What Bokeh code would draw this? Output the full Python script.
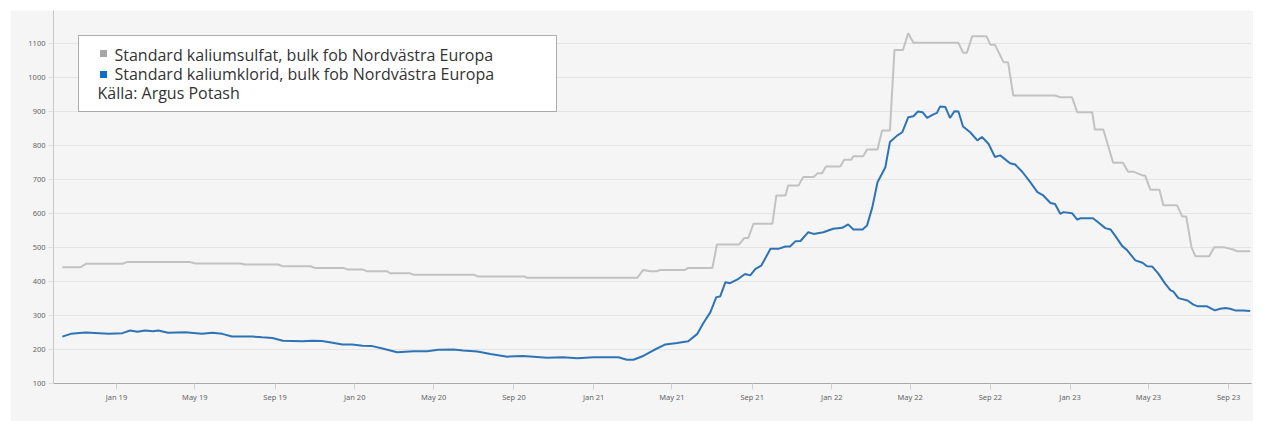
import pandas as pd
from bokeh.plotting import figure
from bokeh.models import Range1d, FixedTicker, DatetimeTickFormatter, BoxAnnotation, Label, ColumnDataSource
from bokeh.embed import file_html
from bokeh.resources import INLINE

# ---- data ----
sulfat_dates = [
    "2018-10-10", "2018-11-07", "2018-11-15", "2019-01-10", "2019-01-17", "2019-04-24", "2019-05-02",
    "2019-07-10", "2019-07-17", "2019-09-06", "2019-09-12", "2019-10-25", "2019-11-01", "2019-12-14",
    "2019-12-22", "2020-01-14", "2020-01-20", "2020-02-20", "2020-02-24", "2020-03-26", "2020-03-31",
    "2020-07-02", "2020-07-07", "2020-09-17", "2020-09-21", "2021-03-09", "2021-03-18", "2021-03-29",
    "2021-04-08", "2021-04-13", "2021-05-21", "2021-05-26", "2021-07-02", "2021-07-09", "2021-08-12",
    "2021-08-20", "2021-08-26", "2021-09-03", "2021-10-02", "2021-10-08", "2021-10-22", "2021-10-26",
    "2021-11-11", "2021-11-18", "2021-12-04", "2021-12-10", "2021-12-17", "2021-12-23", "2022-01-14",
    "2022-01-20", "2022-01-31", "2022-02-03", "2022-02-18", "2022-02-24", "2022-03-12", "2022-03-19",
    "2022-03-31", "2022-04-07", "2022-04-20", "2022-04-28", "2022-05-06", "2022-07-14", "2022-07-21",
    "2022-07-27", "2022-08-04", "2022-08-26", "2022-09-01", "2022-09-08", "2022-09-21", "2022-09-28",
    "2022-10-06", "2022-12-09", "2022-12-17", "2023-01-04", "2023-01-12", "2023-02-04", "2023-02-08",
    "2023-02-21", "2023-03-08", "2023-03-23", "2023-03-31", "2023-04-08", "2023-04-22", "2023-04-26",
    "2023-05-04", "2023-05-18", "2023-05-24", "2023-06-14", "2023-06-22", "2023-06-28", "2023-07-06",
    "2023-07-12", "2023-08-02", "2023-08-10", "2023-08-24", "2023-09-08", "2023-09-14", "2023-10-04",
]
sulfat_values = [
    442, 442, 452, 452, 457, 457, 453,
    453, 450, 450, 445, 445, 440, 440,
    435, 435, 430, 430, 424, 424, 420,
    420, 415, 415, 411, 411, 434, 430,
    430, 434, 434, 440, 440, 509, 509,
    528, 528, 570, 570, 653, 653, 682,
    682, 707, 707, 718, 718, 738, 738,
    758, 758, 768, 768, 788, 788, 844,
    844, 1081, 1081, 1130, 1102, 1102, 1073,
    1073, 1121, 1121, 1096, 1096, 1045, 1045,
    947, 947, 942, 942, 898, 898, 847,
    847, 749, 749, 723, 723, 712, 712,
    670, 670, 624, 624, 591, 591, 501,
    474, 474, 501, 501, 494, 489, 489,
]

klorid_dates = [
    "2018-10-10", "2018-10-23", "2018-11-15", "2018-12-20", "2019-01-10", "2019-01-22", "2019-02-02",
    "2019-02-14", "2019-02-26", "2019-03-06", "2019-03-21", "2019-04-16", "2019-05-12", "2019-05-28",
    "2019-06-12", "2019-06-27", "2019-07-28", "2019-08-12", "2019-08-28", "2019-09-13", "2019-10-13",
    "2019-10-28", "2019-11-12", "2019-11-28", "2019-12-13", "2019-12-28", "2020-01-13", "2020-01-28",
    "2020-02-14", "2020-03-06", "2020-03-31", "2020-04-21", "2020-05-08", "2020-05-31", "2020-06-15",
    "2020-07-07", "2020-07-27", "2020-08-22", "2020-09-15", "2020-10-22", "2020-11-15", "2020-12-07",
    "2021-01-01", "2021-02-08", "2021-02-21", "2021-03-03", "2021-03-18", "2021-04-02", "2021-04-21",
    "2021-05-09", "2021-05-26", "2021-06-09", "2021-06-18", "2021-06-29", "2021-07-08", "2021-07-14",
    "2021-07-22", "2021-07-29", "2021-08-11", "2021-08-21", "2021-08-29", "2021-09-06", "2021-09-15",
    "2021-09-29", "2021-10-11", "2021-10-22", "2021-10-29", "2021-11-06", "2021-11-14", "2021-11-26",
    "2021-12-04", "2021-12-19", "2022-01-03", "2022-01-17", "2022-01-26", "2022-02-03", "2022-02-17",
    "2022-02-24", "2022-03-04", "2022-03-12", "2022-03-24", "2022-03-31", "2022-04-11", "2022-04-19",
    "2022-04-28", "2022-05-06", "2022-05-13", "2022-05-20", "2022-05-27", "2022-06-05", "2022-06-11",
    "2022-06-16", "2022-06-24", "2022-07-01", "2022-07-08", "2022-07-14", "2022-07-21", "2022-08-01",
    "2022-08-12", "2022-08-19", "2022-08-29", "2022-09-08", "2022-09-16", "2022-10-01", "2022-10-09",
    "2022-10-20", "2022-11-01", "2022-11-12", "2022-11-21", "2022-12-02", "2022-12-09", "2022-12-17",
    "2022-12-22", "2023-01-04", "2023-01-12", "2023-01-17", "2023-02-05", "2023-02-13", "2023-02-24",
    "2023-03-04", "2023-03-11", "2023-03-22", "2023-03-29", "2023-04-11", "2023-04-22", "2023-04-29",
    "2023-05-07", "2023-05-16", "2023-05-27", "2023-06-04", "2023-06-08", "2023-06-16", "2023-06-30",
    "2023-07-09", "2023-07-16", "2023-07-30", "2023-08-04", "2023-08-11", "2023-08-19", "2023-08-27",
    "2023-09-03", "2023-09-11", "2023-09-23", "2023-10-04",
]
klorid_values = [
    238, 246, 250, 246, 248, 256, 252,
    256, 254, 256, 249, 251, 246, 249,
    246, 238, 238, 236, 234, 226, 224,
    226, 225, 220, 215, 215, 211, 210,
    202, 192, 195, 195, 199, 200, 197,
    194, 187, 179, 181, 176, 177, 174,
    177, 177, 170, 170, 181, 197, 215,
    219, 224, 246, 277, 310, 354, 356,
    398, 395, 408, 422, 418, 437, 447,
    496, 496, 503, 503, 518, 519, 545,
    540, 545, 555, 558, 568, 553, 553,
    565, 618, 692, 736, 810, 829, 839,
    883, 886, 900, 898, 881, 891, 896,
    915, 913, 881, 901, 900, 856, 839,
    815, 825, 805, 766, 771, 748, 744,
    722, 692, 663, 653, 631, 628, 599,
    604, 601, 582, 586, 586, 574, 557,
    553, 535, 504, 493, 462, 455, 445,
    444, 424, 393, 374, 371, 351, 344,
    332, 327, 327, 322, 315, 320, 322,
    320, 315, 315, 313,
]

y_tick_values = [100, 200, 300, 400, 500, 600, 700, 800, 900, 1000, 1100]
x_tick_dates = ["2019-01-01", "2019-05-01", "2019-09-01", "2020-01-01", "2020-05-01", "2020-09-01",
                "2021-01-01", "2021-05-01", "2021-09-01", "2022-01-01", "2022-05-01", "2022-09-01",
                "2023-01-01", "2023-05-01", "2023-09-01"]
series_labels = ["Standard kaliumsulfat, bulk fob Nordvästra Europa",
                 "Standard kaliumklorid, bulk fob Nordvästra Europa"]
source_label = "Källa: Argus Potash"

GRAY = "#c2c2c2"
BLUE = "#2e74b5"
BG = "#f5f5f5"

src_s = ColumnDataSource(dict(x=pd.to_datetime(sulfat_dates), y=sulfat_values))
src_k = ColumnDataSource(dict(x=pd.to_datetime(klorid_dates), y=klorid_values))

p = figure(width=1243, height=411, x_axis_type="datetime",
           x_range=Range1d(pd.Timestamp("2018-09-26 12:00"), pd.Timestamp("2023-10-06")),
           y_range=Range1d(100, 1197),
           output_backend="svg", toolbar_location=None,
           min_border_left=43, min_border_right=2, min_border_top=0, min_border_bottom=38)
p.margin = (10, 10, 0, 10)
p.background_fill_color = BG
p.border_fill_color = BG
p.outline_line_color = None

p.line("x", "y", source=src_s, line_color=GRAY, line_width=2)
p.line("x", "y", source=src_k, line_color=BLUE, line_width=2)

# axes
p.yaxis.ticker = FixedTicker(ticks=y_tick_values)
p.xaxis.ticker = FixedTicker(ticks=[pd.Timestamp(d).value // 10**6 for d in x_tick_dates])
p.xaxis.formatter = DatetimeTickFormatter(months="%b %y", days="%b %y", years="%b %y")
for ax in (p.xaxis, p.yaxis):
    ax.minor_tick_line_color = None
    ax.major_tick_in = 0
    ax.major_label_text_font = "Noto Sans"
    ax.major_label_text_font_size = "7.5px"
    ax.major_label_text_color = "#666666"
p.xaxis.axis_line_color = "#a8a8a8"
p.xaxis.major_tick_out = 6
p.xaxis.major_tick_line_color = "#d0d0d0"
p.xaxis.major_label_standoff = 2
p.yaxis.axis_line_color = "#c8c8c8"
p.yaxis.major_tick_out = 5
p.yaxis.major_tick_line_color = "#dddddd"
p.yaxis.major_label_standoff = 3
p.xgrid.grid_line_color = None
p.ygrid.grid_line_color = "#e4e4e4"
p.ygrid.grid_line_width = 1

# legend box (canvas units, origin at the figure's top-left)
p.add_layout(BoxAnnotation(left=68, right=546, top=25, bottom=101,
                           left_units="canvas", right_units="canvas",
                           top_units="canvas", bottom_units="canvas",
                           fill_color="white", fill_alpha=1.0,
                           line_color="black", line_width=1, level="overlay"))
for i, (lab, col) in enumerate(zip(series_labels, ["#a6a6a6", "#0a70c4"])):
    top = 39.5 + i * 21
    p.add_layout(BoxAnnotation(left=89.5, right=96.5, top=top, bottom=top + 7,
                               left_units="canvas", right_units="canvas",
                               top_units="canvas", bottom_units="canvas",
                               fill_color=col, fill_alpha=1.0, line_color=None, level="overlay"))
    p.add_layout(Label(x=104, y=44.0 + i * 19.5, x_units="canvas", y_units="canvas", text=lab,
                       text_font="Open Sans", text_font_size="16px", text_color="#333333",
                       text_baseline="alphabetic", level="overlay"))
p.add_layout(Label(x=87, y=82.0, x_units="canvas", y_units="canvas", text=source_label,
                   text_font="Open Sans", text_font_size="16px", text_color="#333333",
                   text_baseline="alphabetic", level="overlay"))

open("out.html", "w").write(file_html(p, INLINE))
